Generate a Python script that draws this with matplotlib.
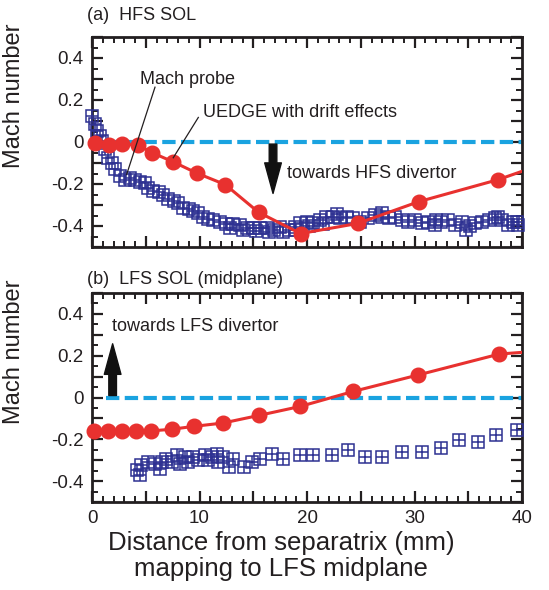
import matplotlib
matplotlib.use("Agg")
import matplotlib.pyplot as plt
from matplotlib.patches import FancyArrowPatch
from matplotlib.ticker import MultipleLocator, FuncFormatter

plt.rcParams['font.family'] = ['Liberation Sans', 'DejaVu Sans']
plt.rcParams['axes.unicode_minus'] = False

# ---------------- data ----------------
# (a) HFS SOL : UEDGE with drift effects
hfs_uedge_x = [0.28, 1.6, 2.8, 4.3, 5.55, 7.57, 9.74, 12.4, 15.5, 19.4, 24.7, 30.4, 37.8, 45.0]
hfs_uedge_y = [-0.003, -0.014, -0.011, -0.014, -0.05, -0.095, -0.148, -0.203, -0.335, -0.436,
               -0.388, -0.284, -0.179, -0.05]
# (a) HFS SOL : Mach probe
hfs_probe_x = [-0.03, 0.28, 0.43, 0.74, 0.9, 1.2, 1.5, 1.83, 2.14, 2.6, 3.07, 3.5, 4.0, 4.47, 4.9,
               5.2, 5.7, 6.2, 6.6, 7.1, 7.6, 8.0, 8.5, 9.0, 9.4, 9.9, 10.35, 10.8, 11.3, 11.9,
               12.5, 13.1, 13.8, 14.4, 15.0, 15.6, 16.25, 16.9, 17.5, 18.3, 18.9, 19.35, 19.97,
               20.6, 21.2, 21.8, 22.4, 23.1, 23.7, 24.3, 24.9, 25.7, 26.3, 26.95, 27.6, 28.2,
               28.8, 29.4, 30.05, 30.7, 31.3, 31.9, 32.5, 33.1, 33.8, 34.4, 34.8, 35.6, 36.25,
               36.9, 37.5, 38.1, 38.7, 39.2, 39.5,
               12.8, 14.0, 15.3, 16.5, 17.8, 19.0, 20.2, 21.5, 22.8, 27.0, 32.0, 35.2, 37.8, 39.6]
hfs_probe_y = [0.125, 0.085, 0.053, 0.03, 0.005, -0.035, -0.075, -0.10, -0.13, -0.163, -0.18,
               -0.17, -0.18, -0.19, -0.195, -0.22, -0.235, -0.24, -0.25, -0.27, -0.28, -0.29,
               -0.315, -0.32, -0.33, -0.34, -0.355, -0.365, -0.37, -0.38, -0.39, -0.39, -0.395,
               -0.41, -0.41, -0.41, -0.41, -0.42, -0.404, -0.42, -0.404, -0.388, -0.38, -0.388,
               -0.372, -0.356, -0.356, -0.364, -0.356, -0.364, -0.38, -0.364, -0.348, -0.356,
               -0.364, -0.356, -0.372, -0.38, -0.372, -0.388, -0.38, -0.396, -0.38, -0.372,
               -0.396, -0.38, -0.42, -0.388, -0.38, -0.372, -0.364, -0.372, -0.396, -0.38, -0.38,
               -0.41, -0.42, -0.425, -0.43, -0.43, -0.42, -0.40, -0.39, -0.345, -0.34, -0.37,
               -0.40, -0.355, -0.395]

# (b) LFS SOL (midplane) : UEDGE with drift effects
lfs_uedge_x = [0.19, 1.5, 2.76, 4.1, 5.46, 7.4, 9.5, 12.2, 15.5, 19.35, 24.3, 30.35, 37.9, 45.0]
lfs_uedge_y = [-0.16, -0.16, -0.16, -0.16, -0.16, -0.152, -0.138, -0.122, -0.086, -0.043, 0.029,
               0.108, 0.208, 0.235]
# (b) LFS SOL (midplane) : Mach probe
lfs_probe_x = [4.2, 4.47, 4.6, 5.2, 5.86, 6.3, 6.5, 6.9, 7.4, 7.9, 8.2, 8.65, 8.96, 9.4, 9.9,
               10.5, 10.8, 11.2, 11.6, 11.75, 12.2, 12.7, 13.1, 14.1, 14.85, 15.6, 16.7, 17.8,
               19.35, 20.6, 22.3, 23.85, 25.4, 26.95, 28.8, 30.7, 32.5, 34.1, 35.9, 37.6, 39.5]
lfs_probe_y = [-0.348, -0.371, -0.324, -0.308, -0.316, -0.34, -0.308, -0.292, -0.31, -0.276,
               -0.316, -0.284, -0.308, -0.284, -0.30, -0.276, -0.30, -0.285, -0.268, -0.308,
               -0.284, -0.332, -0.292, -0.332, -0.308, -0.292, -0.268, -0.292, -0.276, -0.276,
               -0.276, -0.252, -0.284, -0.284, -0.26, -0.26, -0.244, -0.205, -0.213, -0.181,
               -0.157]

x_ticks = [0, 10, 20, 30, 40]
y_ticks = [-0.4, -0.2, 0, 0.2, 0.4]

# ---------------- style ----------------
RED = '#e8312f'
BLUE = '#2e3192'
CYAN = '#1aa3e0'
INK = '#231f20'

W, H = 549, 590
fig = plt.figure(figsize=(W / 100, H / 100), dpi=100)

def box(left, top, right, bottom):
    return [left / W, 1 - bottom / H, (right - left) / W, (bottom - top) / H]

ax1 = fig.add_axes(box(92, 37, 522, 247))
ax2 = fig.add_axes(box(92, 293, 522, 502))

def yfmt(v, pos):
    for t in y_ticks:
        if abs(v - t) < 1e-6:
            return '0' if t == 0 else f'{t:.1f}'
    return ''

def xfmt(v, pos):
    for t in x_ticks:
        if abs(v - t) < 1e-6:
            return f'{t:d}'
    return ''

def style(ax):
    ax.set_xlim(0, 40)
    ax.set_ylim(-0.5, 0.5)
    ax.xaxis.set_major_locator(MultipleLocator(5))
    ax.xaxis.set_minor_locator(MultipleLocator(1))
    ax.yaxis.set_major_locator(MultipleLocator(0.1))
    ax.yaxis.set_minor_locator(MultipleLocator(0.05))
    ax.xaxis.set_major_formatter(FuncFormatter(xfmt))
    ax.yaxis.set_major_formatter(FuncFormatter(yfmt))
    ax.tick_params(which='both', direction='in', top=True, right=True, colors=INK,
                   labelsize=13.5, pad=6)
    ax.tick_params(which='major', length=8, width=1.6)
    ax.tick_params(which='minor', length=4.5, width=1.4)
    for s in ax.spines.values():
        s.set_linewidth(2.0)
        s.set_color(INK)
    ax.set_ylabel('Mach number', fontsize=17, color=INK)
    ax.yaxis.set_label_coords(-0.155, 0.72)

def probe(ax, x, y):
    ax.plot(x, y, linestyle='none', marker='s', markersize=8, markerfacecolor='none',
            markeredgecolor=BLUE, markeredgewidth=1.1, zorder=3, clip_on=False)
    ax.plot(x, y, linestyle='none', marker='+', markersize=8, markeredgecolor=BLUE,
            markeredgewidth=1.1, zorder=3, clip_on=False)

def uedge(ax, x, y):
    ax.plot(x, y, color=RED, linewidth=2.2, zorder=4)
    lo, hi = ax.get_xlim()
    xs = [a for a in x if lo - 1 <= a <= hi]
    ys = [b for a, b in zip(x, y) if lo - 1 <= a <= hi]
    ax.plot(xs, ys, linestyle='none', marker='o', markersize=10.5,
            markerfacecolor=RED, markeredgecolor=RED, zorder=4, clip_on=False)

def zero_line(ax):
    ax.hlines(0, 1.3, 40, colors=CYAN, linewidth=3, linestyles=(0, (3.2, 1.3)), zorder=2)

def big_arrow(ax, x, y0, y1):
    a = FancyArrowPatch((x, y0), (x, y1),
                        arrowstyle='simple,head_length=22,head_width=12,tail_width=5.5',
                        mutation_scale=1, color='#111111', shrinkA=0, shrinkB=0, zorder=5)
    ax.add_patch(a)

# ---- panel (a)
style(ax1)
zero_line(ax1)
probe(ax1, hfs_probe_x, hfs_probe_y)
uedge(ax1, hfs_uedge_x, hfs_uedge_y)
big_arrow(ax1, 16.84, -0.01, -0.245)
ax1.text(18.1, -0.149, 'towards HFS divertor', fontsize=13, color=INK, va='center', ha='left')
ax1.text(4.47, 0.298, 'Mach probe', fontsize=13, color=INK, va='center', ha='left')
ax1.text(10.3, 0.139, 'UEDGE with drift effects', fontsize=13, color=INK, va='center', ha='left')
ax1.plot([5.86, 3.22], [0.261, -0.155], color=INK, linewidth=0.9, zorder=6)
ax1.plot([9.89, 7.56], [0.117, -0.075], color=INK, linewidth=0.9, zorder=6)
ax1.tick_params(labelbottom=False)

# ---- panel (b)
style(ax2)
zero_line(ax2)
probe(ax2, lfs_probe_x, lfs_probe_y)
uedge(ax2, lfs_uedge_x, lfs_uedge_y)
big_arrow(ax2, 1.92, 0.0095, 0.257)
ax2.text(1.86, 0.338, 'towards LFS divertor', fontsize=13, color=INK, va='center', ha='left')
ax2.set_xlabel('Distance from separatrix (mm)\nmapping to LFS midplane', fontsize=18.5,
               color=INK, linespacing=1.1, va='top')
ax2.xaxis.set_label_coords(0.44, -0.14)

fig.text(87 / W, 1 - 16 / H, '(a)  HFS SOL', fontsize=13, color=INK, va='center', ha='left')
fig.text(87 / W, 1 - 279 / H, '(b)  LFS SOL (midplane)', fontsize=13, color=INK, va='center', ha='left')

fig.savefig('out.png', dpi=100)
